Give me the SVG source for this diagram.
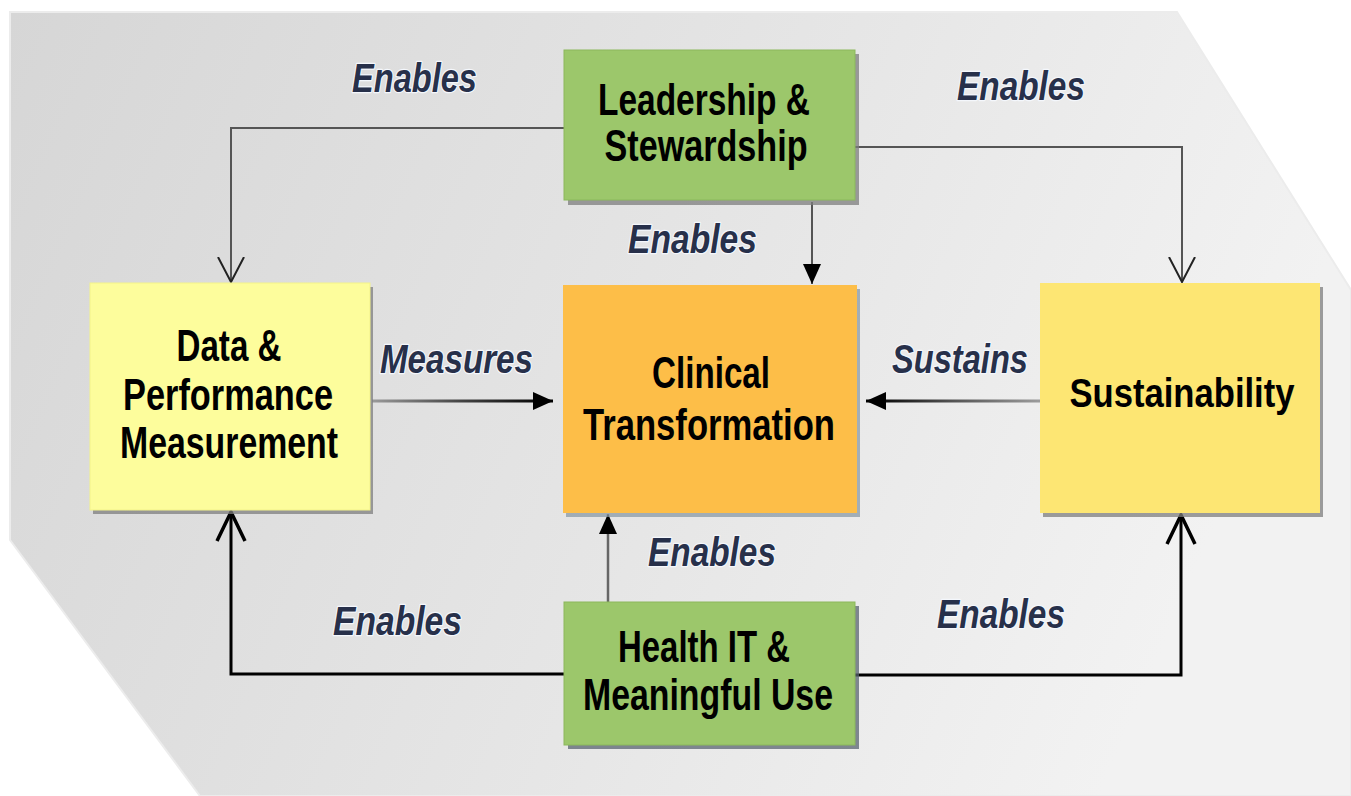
<svg xmlns="http://www.w3.org/2000/svg" width="1351" height="796" viewBox="0 0 1351 796">
  <defs>
    <linearGradient id="bg" x1="0" y1="0" x2="1" y2="0.25">
      <stop offset="0" stop-color="#d6d6d6"/>
      <stop offset="0.6" stop-color="#e6e6e6"/>
      <stop offset="1" stop-color="#f2f2f2"/>
    </linearGradient>
    <linearGradient id="gL" gradientUnits="userSpaceOnUse" x1="372" y1="0" x2="550" y2="0">
      <stop offset="0" stop-color="#9a9a9a"/>
      <stop offset="0.5" stop-color="#444"/>
      <stop offset="1" stop-color="#000"/>
    </linearGradient>
    <linearGradient id="gR" gradientUnits="userSpaceOnUse" x1="1038" y1="0" x2="870" y2="0">
      <stop offset="0" stop-color="#9a9a9a"/>
      <stop offset="0.5" stop-color="#555"/>
      <stop offset="1" stop-color="#000"/>
    </linearGradient>
    <marker id="filled" viewBox="0 0 20 18" refX="20" refY="9" markerWidth="20" markerHeight="18" markerUnits="userSpaceOnUse" orient="auto">
      <path d="M0,0 L20,9 L0,18 Z" fill="#000"/>
    </marker>
    <marker id="openThin" viewBox="0 0 26 28" refX="25" refY="14" markerWidth="26" markerHeight="28" markerUnits="userSpaceOnUse" orient="auto">
      <path d="M0,1 L25,14 L0,27" fill="none" stroke="#222" stroke-width="2"/>
    </marker>
    <marker id="openThick" viewBox="0 0 32 32" refX="30" refY="16" markerWidth="32" markerHeight="32" markerUnits="userSpaceOnUse" orient="auto">
      <path d="M1,2 L30,16 L1,30" fill="none" stroke="#000" stroke-width="3.5"/>
    </marker>
  </defs>
  <style>
    .node text { font-family: "Liberation Sans", Arial, sans-serif; font-weight: bold; font-size: 44px; fill: #000; text-anchor: middle; }
    .node text.sm { font-size: 40px; }
    .lbl { font-family: "Liberation Sans", Arial, sans-serif; font-weight: bold; font-style: italic; font-size: 40px; fill: #27304a; stroke: #f4f7fc; stroke-width: 2.5px; paint-order: stroke; stroke-linejoin: round; }
    .shadow { fill: #7d7d7d; opacity: 0.75; }
    .green { fill: #9cc76b; stroke: #8bb85c; stroke-width: 1; }
    .thin { fill: none; stroke: #555; stroke-width: 2; }
    .thick { fill: none; stroke: #000; stroke-width: 3; }
  </style>

  <polygon points="10,12 1177,12 1351,290 1351,796 200,796 10,540" fill="url(#bg)" stroke="#ececec" stroke-width="2"/>

  <g id="connectors">
    <path class="thin" d="M564,128 H231 V282" marker-end="url(#openThin)"/>
    <path class="thin" d="M855,147 H1182 V282" marker-end="url(#openThin)"/>
    <path class="thin" d="M812,202 V284" marker-end="url(#filled)"/>
    <path d="M372,401 H553" fill="none" stroke="url(#gL)" stroke-width="3" marker-end="url(#filled)"/>
    <path d="M1040,401 H866" fill="none" stroke="url(#gR)" stroke-width="3" marker-end="url(#filled)"/>
    <path d="M608,602 V514" fill="none" stroke="#666" stroke-width="2.5" marker-end="url(#filled)"/>
    <path class="thick" d="M564,674 H231 V512" marker-end="url(#openThick)"/>
    <path class="thick" d="M855,675 H1181 V515" marker-end="url(#openThick)"/>
  </g>

  <g id="labels">
    <text class="lbl" x="352" y="92" textLength="125" lengthAdjust="spacingAndGlyphs">Enables</text>
    <text class="lbl" x="957" y="100" textLength="128" lengthAdjust="spacingAndGlyphs">Enables</text>
    <text class="lbl" x="628" y="253" textLength="129" lengthAdjust="spacingAndGlyphs">Enables</text>
    <text class="lbl" x="380" y="373" textLength="153" lengthAdjust="spacingAndGlyphs">Measures</text>
    <text class="lbl" x="892" y="373" textLength="136" lengthAdjust="spacingAndGlyphs">Sustains</text>
    <text class="lbl" x="648" y="566" textLength="128" lengthAdjust="spacingAndGlyphs">Enables</text>
    <text class="lbl" x="333" y="635" textLength="129" lengthAdjust="spacingAndGlyphs">Enables</text>
    <text class="lbl" x="937" y="628" textLength="128" lengthAdjust="spacingAndGlyphs">Enables</text>
  </g>

  <g id="node-leadership" class="node">
    <rect class="shadow" x="568" y="54" width="291" height="151" fill="#5c6650"/>
    <rect class="green" x="564" y="50" width="291" height="150"/>
    <text x="704" y="115" textLength="212" lengthAdjust="spacingAndGlyphs">Leadership &amp;</text>
    <text x="706" y="161" textLength="203" lengthAdjust="spacingAndGlyphs">Stewardship</text>
  </g>

  <g id="node-data" class="node">
    <rect class="shadow" x="93" y="287" width="280" height="227"/>
    <rect x="90" y="283" width="280" height="227" fill="#fdfd9c" stroke="#f3f38a" stroke-width="1"/>
    <text x="229" y="361" textLength="105" lengthAdjust="spacingAndGlyphs">Data &amp;</text>
    <text x="228" y="410" textLength="210" lengthAdjust="spacingAndGlyphs">Performance</text>
    <text x="229" y="458" textLength="218" lengthAdjust="spacingAndGlyphs">Measurement</text>
  </g>

  <g id="node-clinical" class="node">
    <rect class="shadow" x="566" y="289" width="294" height="228" style="fill:#8a9aa6"/>
    <rect x="563" y="285" width="294" height="228" fill="#fdbe48"/>
    <text x="711" y="388" textLength="118" lengthAdjust="spacingAndGlyphs">Clinical</text>
    <text x="709" y="440" textLength="252" lengthAdjust="spacingAndGlyphs">Transformation</text>
  </g>

  <g id="node-sustainability" class="node">
    <rect class="shadow" x="1043" y="287" width="280" height="230"/>
    <rect x="1040" y="283" width="280" height="230" fill="#fde673"/>
    <text class="sm" x="1182" y="407" textLength="225" lengthAdjust="spacingAndGlyphs">Sustainability</text>
  </g>

  <g id="node-healthit" class="node">
    <rect class="shadow" x="568" y="606" width="291" height="143" style="fill:#5a6470"/>
    <rect class="green" x="564" y="602" width="291" height="143"/>
    <text x="704" y="662" textLength="172" lengthAdjust="spacingAndGlyphs">Health IT &amp;</text>
    <text x="708" y="710" textLength="250" lengthAdjust="spacingAndGlyphs">Meaningful Use</text>
  </g>
</svg>
